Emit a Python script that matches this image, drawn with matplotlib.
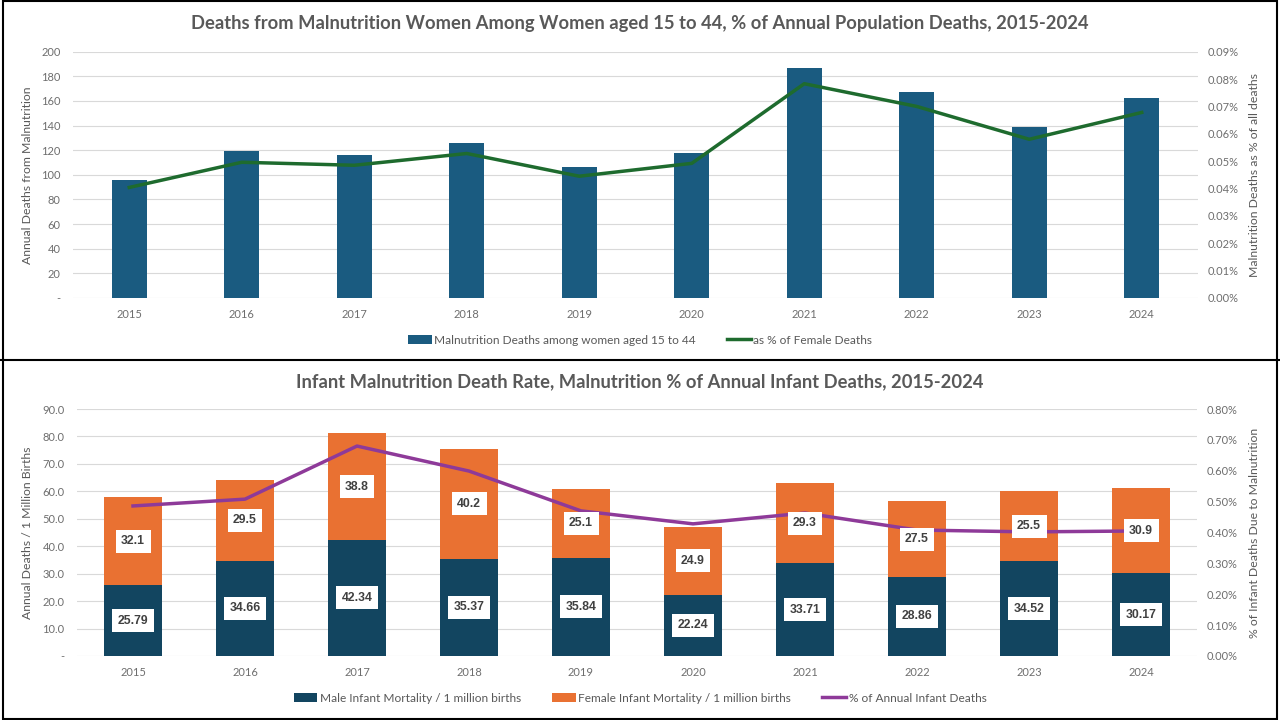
import matplotlib
matplotlib.use("Agg")
import matplotlib.pyplot as plt
import numpy as np
from matplotlib.ticker import FuncFormatter, MultipleLocator

plt.rcParams["font.family"] = ["Lato", "DejaVu Sans"]

years = ["2015", "2016", "2017", "2018", "2019", "2020", "2021", "2022", "2023", "2024"]

# top chart: women 15-44
women_deaths = [96, 119, 116, 126, 106, 118, 187, 167, 139, 162]
women_pct = [0.0404, 0.0496, 0.0485, 0.0528, 0.0445, 0.0492, 0.0783, 0.0700, 0.0580, 0.0678]

# bottom chart: infants
male_rate = [25.79, 34.66, 42.34, 35.37, 35.84, 22.24, 33.71, 28.86, 34.52, 30.17]
female_rate = [32.1, 29.5, 38.8, 40.2, 25.1, 24.9, 29.3, 27.5, 25.5, 30.9]
infant_pct = [0.486, 0.508, 0.680, 0.599, 0.470, 0.428, 0.463, 0.408, 0.402, 0.405]

GRAY = "#595959"
TICK = "#6e6e6e"
GRID = "#d9d9d9"

W, H = 1280, 720
fig = plt.figure(figsize=(12.8, 7.2), dpi=100)


def px(x0, y0, x1, y1):
    return [x0 / W, 1 - y1 / H, (x1 - x0) / W, (y1 - y0) / H]


def style(ax):
    for s in ax.spines.values():
        s.set_visible(False)
    ax.tick_params(length=0, colors=TICK, labelsize=8)
    ax.set_xlim(-0.5, len(years) - 0.5)


def put_label(ax, text, xpix, x0, x1):
    ax.set_ylabel(text, color=GRAY, fontsize=8.8)
    ax.yaxis.set_label_coords((xpix - x0) / (x1 - x0), 0.5)
    ax.yaxis.label.set_va("center")


x = np.arange(len(years))

# ---- top
T0, T1 = 73, 1198
ax1 = fig.add_axes(px(T0, 51.7, T1, 298))
style(ax1)
ax1.set_ylim(0, 200)
ax1.yaxis.set_major_locator(MultipleLocator(20))
ax1.yaxis.set_major_formatter(FuncFormatter(lambda v, p: "-" if v == 0 else f"{v:.0f}"))
ax1.grid(axis="y", color=GRID, lw=0.8)
ax1.set_axisbelow(True)
b1 = ax1.bar(x, women_deaths, width=0.31, color="#1a5b80", zorder=2,
             label="Malnutrition Deaths among women aged 15 to 44")
ax1.set_xticks(x, years)
ax1.tick_params(axis="x", pad=8)
ax1.tick_params(axis="y", pad=9)
put_label(ax1, "Annual Deaths from Malnutrition", 28, T0, T1)

ax1r = ax1.twinx()
style(ax1r)
ax1r.set_ylim(0, 0.09)
ax1r.yaxis.set_major_locator(MultipleLocator(0.01))
ax1r.yaxis.set_major_formatter(FuncFormatter(lambda v, p: f"{v:.2f}%"))
ax1r.tick_params(axis="y", pad=7)
l1, = ax1r.plot(x, women_pct, color="#1e6b2e", lw=2.5, label="as % of Female Deaths")
put_label(ax1r, "Malnutrition Deaths as % of all deaths", 1254, T0, T1)

fig.text(0.5, 1 - 23 / H,
         "Deaths from Malnutrition Women Among Women aged 15 to 44, % of Annual Population Deaths, 2015-2024",
         ha="center", va="center", fontsize=13.2, fontweight="bold", color=GRAY)
fig.legend(handles=[b1, l1], loc="center", bbox_to_anchor=(0.5, 1 - 340 / H), ncol=2,
           frameon=False, fontsize=8.6, labelcolor=GRAY, columnspacing=2.6,
           handlelength=2.0, handletextpad=0.2)

# ---- bottom
B0, B1 = 77, 1197
ax2 = fig.add_axes(px(B0, 409, B1, 656))
style(ax2)
ax2.set_ylim(0, 90)
ax2.yaxis.set_major_locator(MultipleLocator(10))
ax2.yaxis.set_major_formatter(FuncFormatter(lambda v, p: "-" if v == 0 else f"{v:.1f}"))
ax2.grid(axis="y", color=GRID, lw=0.8)
ax2.set_axisbelow(True)
bm = ax2.bar(x, male_rate, width=0.51, color="#124560", zorder=2,
             label="Male Infant Mortality / 1 million births")
bf = ax2.bar(x, female_rate, width=0.51, bottom=male_rate, color="#e97132", zorder=2,
             label="Female Infant Mortality / 1 million births")
ax2.set_xticks(x, years)
ax2.tick_params(axis="x", pad=8)
ax2.tick_params(axis="y", pad=9)
put_label(ax2, "Annual Deaths / 1 Million Births", 28, B0, B1)

ax2r = ax2.twinx()
style(ax2r)
ax2r.set_ylim(0, 0.8)
ax2r.yaxis.set_major_locator(MultipleLocator(0.1))
ax2r.yaxis.set_major_formatter(FuncFormatter(lambda v, p: f"{v:.2f}%"))
ax2r.tick_params(axis="y", pad=7)
l2, = ax2r.plot(x, infant_pct, color="#8e3a99", lw=2.5, label="% of Annual Infant Deaths", zorder=3)
put_label(ax2r, "% of Infant Deaths Due to Malnutrition", 1254, B0, B1)

# data labels on the twin so they sit above the line
box = dict(boxstyle="square,pad=0.45", fc="white", ec="none")
for i in range(len(years)):
    ax2r.text(x[i], male_rate[i] / 2, f"{male_rate[i]:.2f}", transform=ax2.transData,
              ha="center", va="center", fontsize=8.8, fontweight="bold", color="#404040",
              bbox=box, zorder=5, family="Liberation Sans")
    ax2r.text(x[i], male_rate[i] + female_rate[i] / 2, f"{female_rate[i]:.1f}",
              transform=ax2.transData, ha="center", va="center", fontsize=8.8,
              fontweight="bold", color="#404040", bbox=box, zorder=5, family="Liberation Sans")

fig.text(0.5, 1 - 382 / H,
         "Infant Malnutrition Death Rate, Malnutrition % of Annual Infant Deaths, 2015-2024",
         ha="center", va="center", fontsize=13.2, fontweight="bold", color=GRAY)
fig.legend(handles=[bm, bf, l2], loc="center", bbox_to_anchor=(0.5, 1 - 698 / H), ncol=3,
           frameon=False, fontsize=8.6, labelcolor=GRAY, columnspacing=2.6,
           handlelength=2.0, handletextpad=0.2)

# panel borders
fig.add_artist(plt.Rectangle((0.002, 0.002), 0.996, 0.996, transform=fig.transFigure,
                             fill=False, ec="black", lw=1.5))
fig.add_artist(plt.Line2D([0, 1], [1 - 360 / H, 1 - 360 / H], transform=fig.transFigure,
                          color="black", lw=1.5))

fig.savefig("out.png", dpi=100)
